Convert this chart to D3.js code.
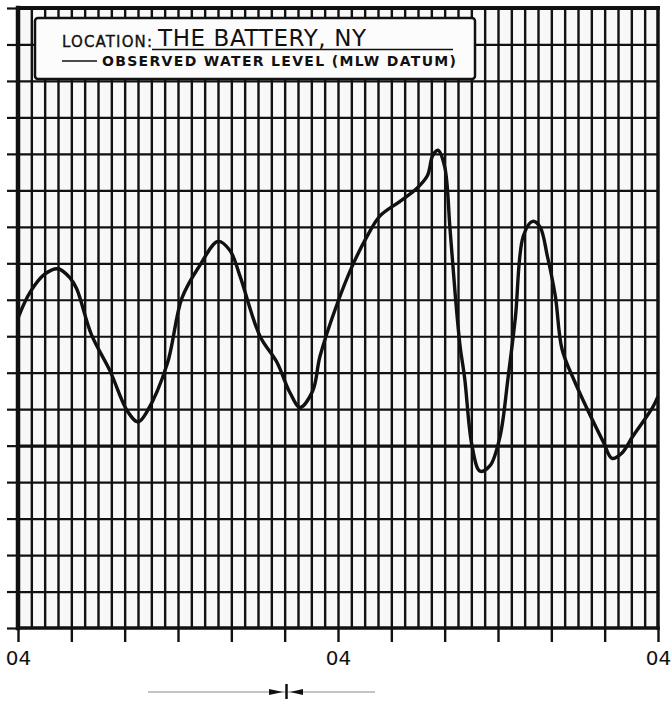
<!DOCTYPE html>
<html>
<head>
<meta charset="utf-8">
<script src="https://cdn.jsdelivr.net/npm/d3@7"></script>
<style>
	body { margin: 0; background: #fff; }
	svg { display: block; }
	.grid path, .ticks path { display: none; }
	text { font-family: 'DejaVu Sans', sans-serif; fill: #111; }
</style>
</head>
<body>
<svg id="chart-svg" width="671" height="702"></svg>
<script>
// Observed water level, hours from 04 on day one (one grid column = 1 hour)
const HOURS = [0, 0.9, 2, 3, 3.9, 4.4, 5.5, 6.9, 8.2, 9, 9.7, 11.2, 12.3, 13.65, 15, 15.9, 16.65, 18.15, 19.4,
	20.4, 21.15, 22.1, 22.65, 23.9, 25.1, 26.2, 27.15, 28.65, 29.9, 30.7, 31.1, 31.5, 32, 32.4, 32.8, 33.15, 33.5,
	34.05, 34.65, 35.4, 36.15, 36.75, 37.3, 37.9, 38.6, 39.15, 39.7, 40.3, 40.8, 41.7, 43.9, 44.55, 45.3,
	46.1, 47.6, 48];
// level in grid units above MLW datum
const LEVELS = [3.5, 4.2, 4.7, 4.85, 4.6, 4.3, 3.05, 2.05, 0.95, 0.65, 0.95, 2.25, 4.05, 4.95, 5.6, 5.35, 4.65,
	3.0, 2.3, 1.45, 1.05, 1.5, 2.45, 3.85, 4.95, 5.75, 6.3, 6.7, 7.05, 7.4, 7.95, 8.1, 7.65, 5.95, 4.1, 2.75, 1.85,
	0.0, -0.7, -0.55, 0.25, 1.85, 3.5, 5.75, 6.15, 6.0, 5.2, 4.1, 2.65, 1.8, 0.1, -0.35, -0.2, 0.25, 1.05, 1.35];

const X_DOMAIN = [0, 48];
const Y_DOMAIN = [-5, 12];
const X_TICKS = d3.range(0, 49, 4);
const X_LABEL_HOURS = [0, 24, 48];
const X_LABEL_TEXT = '04';

const LOCATION_LABEL = 'LOCATION:';
const LOCATION_NAME = 'THE BATTERY, NY';
const SERIES_LABEL = 'OBSERVED WATER LEVEL (MLW DATUM)';

const svg = d3.select('#chart-svg');
const plotLeft = 18, plotRight = 658, plotTop = 8, plotBottom = 628;
const INK = '#111';

const x = d3.scaleLinear(X_DOMAIN, [plotLeft, plotRight]);
const y = d3.scaleLinear(Y_DOMAIN, [plotBottom, plotTop]);

// paper
svg.append('rect').attr('x', plotLeft).attr('y', plotTop)
	.attr('width', plotRight - plotLeft).attr('height', plotBottom - plotTop)
	.attr('fill', '#f8f8f8');

// vertical grid, one line per hour
svg.append('g').attr('class', 'grid').attr('transform', `translate(0,${plotBottom})`)
	.call(d3.axisBottom(x).tickValues(d3.range(1, 48)).tickSize(-(plotBottom - plotTop)).tickFormat(''))
	.selectAll('line').attr('stroke', INK).attr('stroke-width', 2.4);

// horizontal grid, one line per unit
svg.append('g').attr('class', 'grid').attr('transform', `translate(${plotLeft},0)`)
	.call(d3.axisLeft(y).tickValues(d3.range(-4, 12)).tickSize(-(plotRight - plotLeft)).tickFormat(''))
	.selectAll('line').attr('stroke', INK).attr('stroke-width', (d) => (d === 0 ? 3.4 : 2.2));

// outside ticks
svg.append('g').attr('class', 'ticks').attr('transform', `translate(${plotLeft},0)`)
	.call(d3.axisLeft(y).tickValues(d3.range(-5, 13)).tickSize(11).tickFormat(''))
	.selectAll('line').attr('stroke', INK).attr('stroke-width', 2.2);

let xAxis = svg.append('g').attr('class', 'ticks').attr('transform', `translate(0,${plotBottom})`)
	.call(d3.axisBottom(x).tickValues(X_TICKS).tickSize(14)
		.tickFormat((d) => (X_LABEL_HOURS.includes(d) ? X_LABEL_TEXT : '')));
xAxis.selectAll('line').attr('stroke', INK).attr('stroke-width', 2.4);
xAxis.selectAll('text').attr('y', 23).attr('font-size', 20).attr('fill', INK)
	.style('font-family', "'DejaVu Sans', sans-serif");

// frame
const frame = svg.append('g').attr('stroke', INK).attr('stroke-linecap', 'square');
frame.append('line').attr('x1', plotLeft).attr('x2', plotLeft).attr('y1', plotTop).attr('y2', plotBottom).attr('stroke-width', 4.5);
frame.append('line').attr('x1', plotRight).attr('x2', plotRight).attr('y1', plotTop).attr('y2', plotBottom).attr('stroke-width', 3.5);
frame.append('line').attr('x1', plotLeft).attr('x2', plotRight).attr('y1', plotTop).attr('y2', plotTop).attr('stroke-width', 4);
frame.append('line').attr('x1', plotLeft).attr('x2', plotRight).attr('y1', plotBottom).attr('y2', plotBottom).attr('stroke-width', 3.5);

// water level trace
const lineGen = d3.line()
	.x((d, i) => x(HOURS[i]))
	.y((d) => y(d))
	.curve(d3.curveCatmullRom.alpha(0.5));
svg.append('path')
	.datum(LEVELS)
	.attr('d', lineGen)
	.attr('fill', 'none')
	.attr('stroke', INK)
	.attr('stroke-width', 3.4)
	.attr('stroke-linejoin', 'round');

// legend box
const legend = svg.append('g');
legend.append('rect').attr('x', 35).attr('y', 18).attr('width', 440).attr('height', 61).attr('rx', 3)
	.attr('fill', '#fcfcfc').attr('stroke', INK).attr('stroke-width', 2.5);
legend.append('text').attr('x', 62).attr('y', 47).attr('font-size', 15).attr('textLength', 90)
	.attr('stroke', INK).attr('stroke-width', 0.35)
	.text(LOCATION_LABEL);
legend.append('text').attr('x', 158).attr('y', 46).attr('font-size', 23).attr('textLength', 208)
	.text(LOCATION_NAME);
legend.append('line').attr('x1', 152).attr('x2', 453).attr('y1', 49.5).attr('y2', 49.5)
	.attr('stroke', INK).attr('stroke-width', 1.6);
legend.append('line').attr('x1', 62).attr('x2', 97).attr('y1', 61).attr('y2', 61)
	.attr('stroke', INK).attr('stroke-width', 1.6);
legend.append('text').attr('x', 102).attr('y', 66).attr('font-size', 14).attr('font-weight', 'bold')
	.attr('textLength', 354).text(SERIES_LABEL);

// scale arrow under the chart
const arrow = svg.append('g');
arrow.append('line').attr('x1', 148).attr('x2', 375).attr('y1', 692).attr('y2', 692)
	.attr('stroke', '#888').attr('stroke-width', 1);
arrow.append('path').attr('d', 'M269,689 L283,692 L269,695 Z').attr('fill', INK);
arrow.append('path').attr('d', 'M303,689 L290,692 L303,695 Z').attr('fill', INK);
arrow.append('line').attr('x1', 286.5).attr('x2', 286.5).attr('y1', 684).attr('y2', 699)
	.attr('stroke', INK).attr('stroke-width', 2.5);
</script>
</body>
</html>
